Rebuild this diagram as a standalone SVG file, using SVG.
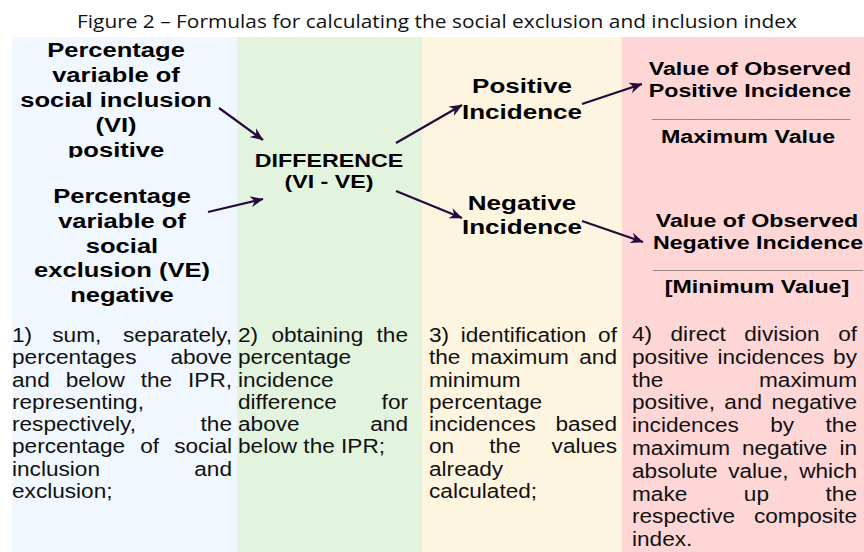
<svg xmlns="http://www.w3.org/2000/svg" width="864" height="552" viewBox="0 0 864 552">
<style>
.t{font-family:"Liberation Sans",Arial,sans-serif;fill:#111}
.b{font-weight:bold;fill:#000}
.lb{font-size:19.5px}
.mb{font-size:18.5px}
.ib{font-size:21px}
.p{font-size:19.5px}
.u{font-family:"Liberation Sans",Arial,sans-serif;font-weight:bold;font-size:18.5px;fill:#4a4a4a}
.c{text-anchor:middle}
.e{text-anchor:end}
.a{fill:none;stroke:#250a3a;stroke-width:2.2;marker-end:url(#ah)}
</style>
<defs>
<marker id="ah" viewBox="0 0 13 11" refX="12.5" refY="5.5" markerWidth="13" markerHeight="11" markerUnits="userSpaceOnUse" orient="auto">
<path d="M0,0 L13,5.5 L0,11 L4,5.5 z" fill="#250a3a"/>
</marker>
<clipPath id="clipPos"><rect x="0" y="30" width="237" height="127.8"/></clipPath>
</defs>
<rect width="864" height="552" fill="#ffffff"/>
<g id="columns">
<rect x="12" y="37" width="225" height="515" fill="#f0f7fe"/>
<rect x="237" y="37" width="185" height="515" fill="#e2f4de"/>
<rect x="422" y="37" width="200" height="515" fill="#fef5e0"/>
<rect x="622" y="37" width="242" height="515" fill="#fed6d6"/>
</g>
<text id="title" x="77" y="28" font-family="'Open Sans','Liberation Sans',sans-serif" font-size="18" fill="#111" textLength="720" lengthAdjust="spacingAndGlyphs">Figure 2 – Formulas for calculating the social exclusion and inclusion index</text>

<g id="node-vi" class="t b lb c" clip-path="url(#clipPos)">
<text transform="translate(116 57) scale(1.31 1)">Percentage</text>
<text transform="translate(116 82) scale(1.31 1)">variable of</text>
<text transform="translate(116 107) scale(1.31 1)">social inclusion</text>
<text transform="translate(116 132) scale(1.31 1)">(VI)</text>
<text transform="translate(116 157) scale(1.31 1)">positive</text>
</g>
<g id="node-ve" class="t b lb c">
<text transform="translate(122 203) scale(1.31 1)">Percentage</text>
<text transform="translate(122 228) scale(1.31 1)">variable of</text>
<text transform="translate(122 252.5) scale(1.31 1)">social</text>
<text transform="translate(122 277) scale(1.31 1)">exclusion (VE)</text>
<text transform="translate(122 302) scale(1.31 1)">negative</text>
</g>
<g id="node-diff" class="t b mb c">
<text transform="translate(329 167) scale(1.255 1)">DIFFERENCE</text>
<text transform="translate(329 188) scale(1.255 1)">(VI - VE)</text>
</g>
<g id="node-pos" class="t b ib c">
<text transform="translate(522 93) scale(1.24 1)">Positive</text>
<text transform="translate(522 119) scale(1.24 1)">Incidence</text>
</g>
<g id="node-neg" class="t b ib c">
<text transform="translate(522 209.5) scale(1.24 1)">Negative</text>
<text transform="translate(522 234) scale(1.24 1)">Incidence</text>
</g>
<g id="node-posformula" class="t b mb c">
<text transform="translate(750 74.5) scale(1.255 1)">Value of Observed</text>
<text transform="translate(750 97) scale(1.255 1)">Positive Incidence</text>
<text class="u" x="652" y="118" textLength="198" lengthAdjust="spacingAndGlyphs" style="text-anchor:start">_______________</text>
<text transform="translate(748 143) scale(1.255 1)">Maximum Value</text>
</g>
<g id="node-negformula" class="t b mb c">
<text transform="translate(757 226.5) scale(1.255 1)">Value of Observed</text>
<text transform="translate(758 248.5) scale(1.255 1)">Negative Incidence</text>
<text class="u" x="653" y="269" textLength="210" lengthAdjust="spacingAndGlyphs" style="text-anchor:start">________________</text>
<text transform="translate(757 293) scale(1.255 1)">[Minimum Value]</text>
</g>

<g id="connectors">
<path class="a" d="M219,108 L263,140"/>
<path class="a" d="M208,212 L263,199"/>
<path class="a" d="M396,143 L462,105"/>
<path class="a" d="M396,191 L462,218"/>
<path class="a" d="M582,104 L642,84"/>
<path class="a" d="M582,221 L643,242"/>
</g>

<g id="step1" class="t p" transform="translate(12 0) scale(1.16 1)">
<text x="0" y="342">1)</text><text x="34.7" y="342">sum,</text><text class="e" x="189.66" y="342">separately,</text>
<text x="0" y="364.3">percentages</text><text class="e" x="189.66" y="364.3">above</text>
<text x="0" y="386.6">and</text><text x="46.25" y="386.6">below</text><text x="110.9" y="386.6">the</text><text class="e" x="189.66" y="386.6">IPR,</text>
<text x="0" y="408.9">representing,</text>
<text x="0" y="431.2">respectively,</text><text class="e" x="189.66" y="431.2">the</text>
<text x="0" y="453.5">percentage</text><text x="110.56" y="453.5">of</text><text class="e" x="189.66" y="453.5">social</text>
<text x="0" y="475.8">inclusion</text><text class="e" x="189.66" y="475.8">and</text>
<text x="0" y="498.1">exclusion;</text>
</g>
<g id="step2" class="t p" transform="translate(238 0) scale(1.16 1)">
<text x="0" y="342">2)</text><text x="28.83" y="342">obtaining</text><text class="e" x="146.55" y="342">the</text>
<text x="0" y="364.3">percentage</text>
<text x="0" y="386.6">incidence</text>
<text x="0" y="408.9">difference</text><text class="e" x="146.55" y="408.9">for</text>
<text x="0" y="431.2">above</text><text class="e" x="146.55" y="431.2">and</text>
<text x="0" y="453.5">below the IPR;</text>
</g>
<g id="step3" class="t p" transform="translate(429 0) scale(1.16 1)">
<text x="0" y="342">3)</text><text x="27.38" y="342">identification</text><text class="e" x="162.07" y="342">of</text>
<text x="0" y="364.3">the</text><text x="36.07" y="364.3">maximum</text><text class="e" x="162.07" y="364.3">and</text>
<text x="0" y="386.6">minimum</text>
<text x="0" y="408.9">percentage</text>
<text x="0" y="431.2">incidences</text><text class="e" x="162.07" y="431.2">based</text>
<text x="0" y="453.5">on</text><text x="52" y="453.5">the</text><text class="e" x="162.07" y="453.5">values</text>
<text x="0" y="475.8">already</text>
<text x="0" y="498.1">calculated;</text>
</g>
<g id="step4" class="t p" transform="translate(632 0) scale(1.16 1)">
<text x="0" y="341">4)</text><text x="33.23" y="341">direct</text><text x="96.8" y="341">division</text><text class="e" x="193.97" y="341">of</text>
<text x="0" y="363.8">positive</text><text x="73.69" y="363.8">incidences</text><text class="e" x="193.97" y="363.8">by</text>
<text x="0" y="386.6">the</text><text class="e" x="193.97" y="386.6">maximum</text>
<text x="0" y="409.4">positive,</text><text x="79.63" y="409.4">and</text><text class="e" x="193.97" y="409.4">negative</text>
<text x="0" y="432.2">incidences</text><text x="119.2" y="432.2">by</text><text class="e" x="193.97" y="432.2">the</text>
<text x="0" y="455">maximum</text><text x="94.79" y="455">negative</text><text class="e" x="193.97" y="455">in</text>
<text x="0" y="477.8">absolute</text><text x="82.91" y="477.8">value,</text><text class="e" x="193.97" y="477.8">which</text>
<text x="0" y="500.6">make</text><text x="96.43" y="500.6">up</text><text class="e" x="193.97" y="500.6">the</text>
<text x="0" y="523.4">respective</text><text class="e" x="193.97" y="523.4">composite</text>
<text x="0" y="546.2">index.</text>
</g>
</svg>
